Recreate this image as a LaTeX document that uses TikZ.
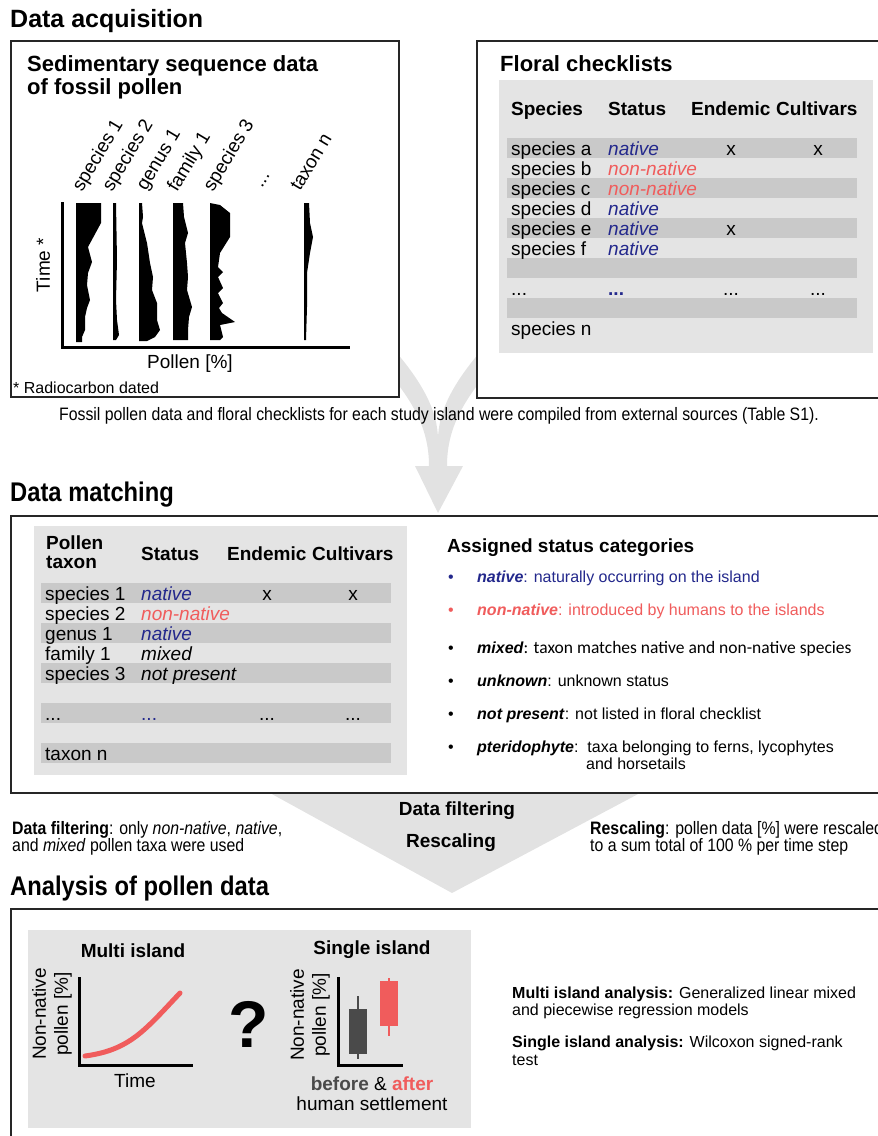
\documentclass[tikz,border=0pt]{standalone}
\usepackage{fontspec}
\setmainfont{Liberation Sans}
\newfontfamily\narrowfont[FakeStretch=0.88]{Liberation Sans}
\newfontfamily\calibrifont{Carlito}
\usetikzlibrary{calc}

\definecolor{natblue}{RGB}{35,40,140}
\definecolor{nonred}{RGB}{240,92,92}
\definecolor{panelgrey}{RGB}{228,228,228}
\definecolor{rowgrey}{RGB}{201,201,201}
\definecolor{flowgrey}{RGB}{226,226,226}
\definecolor{boxdark}{RGB}{74,74,74}

\newcommand{\fsz}[1]{\fontsize{#1}{#1}\selectfont}

\begin{document}
\begin{tikzpicture}[x=1pt,y=-1pt,
    sectitle/.style={anchor=base west,inner sep=0,font=\bfseries\fsz{25}},
    frame/.style={draw=black!85,line width=1.2pt,fill=white},
    cell/.style={anchor=base west,inner sep=0,font=\fsz{19}},
    head/.style={anchor=base west,inner sep=0,font=\bfseries\fsz{19}},
    xcell/.style={anchor=base,inner sep=0,font=\fsz{19}},
    taxlabel/.style={anchor=base west,inner sep=0,font=\fsz{19},rotate=59},
    item/.style={anchor=base west,inner sep=0,font=\fsz{16}},
    bull/.style={anchor=base,inner sep=0,font=\fsz{16}},
    narrow/.style={anchor=base west,inner sep=0,font=\narrowfont\fsz{18}},
    axisline/.style={line width=3pt},
    pollen/.style={fill=black}]
    \useasboundingbox (0,0) rectangle (878,1136);

    % grey flow shapes behind the boxes
    \fill[flowgrey] (365,345) .. controls (405,390) and (429,420) .. (429,466)
      -- (415,466) -- (438,513) -- (463,466) -- (447,466)
      .. controls (447,420) and (471,390) .. (511,345)
      -- (486,345) .. controls (455,380) and (438,410) .. (438,440)
      .. controls (438,410) and (421,380) .. (390,345) -- cycle;
    \fill[flowgrey] (270,793) -- (640,793) -- (452,893) -- cycle;

    % boxes
    \draw[frame] (11,41) rectangle (399,397);
    \draw[frame] (477,41) rectangle (895,398);
    \draw[frame] (11,516) rectangle (895,793);
    \draw[frame] (11,909) rectangle (895,1150);

    % section titles
    \node[sectitle] (acq) at (10,27) {Data acquisition};
    \node[sectitle,font=\narrowfont\bfseries\fsz{27}] (match) at (10,501) {Data matching};
    \node[sectitle,font=\narrowfont\bfseries\fsz{27}] (anal) at (10,895) {Analysis of pollen data};

    % fossil pollen diagram
    \node[head,font=\bfseries\fsz{22}] (sedA) at (27,71) {Sedimentary sequence data};
    \node[head,font=\bfseries\fsz{22}] (sedB) at (27,94) {of fossil pollen};
    \draw[axisline] (62,202) -- (62,347) -- (350,347);
    \fill[pollen] (76,203) -- (101,203) -- (101,223) -- (88,247) -- (92,262) -- (88,273)
      -- (87,285) -- (90,300) -- (87,308) -- (85,317) -- (85,330) -- (82,337)
      -- (82,342) -- (76,342) -- cycle;
    \fill[pollen] (113,203) -- (116,203) -- (117,260) -- (116,300) -- (117,320)
      -- (119,335) -- (116,340) -- (113,340) -- cycle;
    \fill[pollen] (139,203) -- (142,203) -- (143,217) -- (142,223) -- (147,243)
      -- (150,263) -- (153,277) -- (152,290) -- (157,303) -- (157,320) -- (160,330)
      -- (155,337) -- (147,341) -- (139,341) -- cycle;
    \fill[pollen] (173,203) -- (183,203) -- (184,217) -- (188,233) -- (185,243)
      -- (187,263) -- (188,277) -- (187,290) -- (192,307) -- (189,317) -- (188,330)
      -- (188,340) -- (173,340) -- cycle;
    \fill[pollen] (210,203) -- (220,205) -- (230,213) -- (230,237) -- (220,253)
      -- (218,267) -- (223,272) -- (218,277) -- (223,288) -- (218,293) -- (223,303)
      -- (219,308) -- (222,313) -- (235,322) -- (220,325) -- (223,337) -- (220,340)
      -- (210,340) -- cycle;
    \fill[pollen] (304,203) -- (309,203) -- (310,223) -- (313,237) -- (310,253)
      -- (307,273) -- (307,307) -- (306,340) -- (304,340) -- cycle;
    \node[taxlabel] (t1) at (82,193) {species 1};
    \node[taxlabel] (t2) at (112,193) {species 2};
    \node[taxlabel] (t3) at (146,192) {genus 1};
    \node[taxlabel] (t4) at (177,193) {family 1};
    \node[taxlabel] (t5) at (213,193) {species 3};
    \node[taxlabel] (t6) at (262,189) {...};
    \node[taxlabel] (t7) at (300,192) {taxon n};
    \node[font=\fsz{19},rotate=90,inner sep=0] (time) at (43,265) {Time *};
    \node[xcell] (pollpct) at (190,368) {Pollen [\%]};
    \node[item] (radio) at (13,393) {* Radiocarbon dated};

    % floral checklist table
    \node[head,font=\bfseries\fsz{22}] (floral) at (500,71) {Floral checklists};
    \fill[panelgrey] (499,80) rectangle (873,353);
    \foreach \yy in {138,178,218,258,298}
      \fill[rowgrey] (507,\yy) rectangle +(350,20);
    \node[head] (fh1) at (511,115) {Species};
    \node[head] (fh2) at (608,115) {Status};
    \node[head] (fh3) at (691,115) {Endemic};
    \node[head] (fh4) at (776,115) {Cultivars};
    \node[cell] (fa) at (511,155) {species a};
    \node[cell,natblue,font=\itshape\fsz{19}] (fas) at (608,155) {native};
    \node[xcell] (fae) at (731,155) {x};
    \node[xcell] (fac) at (818,155) {x};
    \node[cell] (fb) at (511,175) {species b};
    \node[cell,nonred,font=\itshape\fsz{19}] (fbs) at (608,175) {non-native};
    \node[cell] (fc) at (511,195) {species c};
    \node[cell,nonred,font=\itshape\fsz{19}] (fcs) at (608,195) {non-native};
    \node[cell] (fd) at (511,215) {species d};
    \node[cell,natblue,font=\itshape\fsz{19}] (fds) at (608,215) {native};
    \node[cell] (fe) at (511,235) {species e};
    \node[cell,natblue,font=\itshape\fsz{19}] (fes) at (608,235) {native};
    \node[xcell] (fee) at (731,235) {x};
    \node[cell] (ff) at (511,255) {species f};
    \node[cell,natblue,font=\itshape\fsz{19}] (ffs) at (608,255) {native};
    \node[cell] (fdots) at (511,295) {...};
    \node[cell,natblue,font=\bfseries\fsz{19}] (fdotss) at (608,295) {...};
    \node[xcell] (fdotse) at (731,295) {...};
    \node[xcell] (fdotsc) at (818,295) {...};
    \node[cell] (fn) at (511,335) {species n};

    \node[anchor=base,inner sep=0,font=\narrowfont\fsz{18}] (compiled) at (439,420)
      {Fossil pollen data and floral checklists for each study island were compiled from external sources (Table S1).};

    % matching table
    \fill[panelgrey] (34,526) rectangle (407,775);
    \foreach \yy in {583,623,663,703,743}
      \fill[rowgrey] (41,\yy) rectangle +(350,20);
    \node[head] (mh1) at (46,549) {Pollen};
    \node[head] (mh1b) at (46,568) {taxon};
    \node[head] (mh2) at (141,560) {Status};
    \node[head] (mh3) at (227,560) {Endemic};
    \node[head] (mh4) at (312,560) {Cultivars};
    \node[cell] (m1) at (45,600) {species 1};
    \node[cell,natblue,font=\itshape\fsz{19}] (m1s) at (141,600) {native};
    \node[xcell] (m1e) at (267,600) {x};
    \node[xcell] (m1c) at (353,600) {x};
    \node[cell] (m2) at (45,620) {species 2};
    \node[cell,nonred,font=\itshape\fsz{19}] (m2s) at (141,620) {non-native};
    \node[cell] (m3) at (45,640) {genus 1};
    \node[cell,natblue,font=\itshape\fsz{19}] (m3s) at (141,640) {native};
    \node[cell] (m4) at (45,660) {family 1};
    \node[cell,font=\itshape\fsz{19}] (m4s) at (141,660) {mixed};
    \node[cell] (m5) at (45,680) {species 3};
    \node[cell,font=\itshape\fsz{19}] (m5s) at (141,680) {not present};
    \node[cell] (mdots) at (45,720) {...};
    \node[cell,natblue] (mdotss) at (141,720) {...};
    \node[xcell] (mdotse) at (267,720) {...};
    \node[xcell] (mdotsc) at (353,720) {...};
    \node[cell] (mn) at (45,760) {taxon n};

    % status categories
    \node[head] (cats) at (447,552) {Assigned status categories};
    \node[bull,natblue] (b1) at (451,582) {•};
    \node[item,natblue] (c1) at (477,582) {\textbf{\textit{native}}: naturally occurring on the island};
    \node[bull,nonred] (b2) at (451,615) {•};
    \node[item,nonred] (c2) at (477,615) {\textbf{\textit{non-native}}: introduced by humans to the islands};
    \node[bull] (b3) at (451,653) {•};
    \node[item] (c3) at (477,653) {\textbf{\textit{mixed}}{\calibrifont\fsz{17.5}: taxon matches native and non-native species}};
    \node[bull] (b4) at (451,686) {•};
    \node[item] (c4) at (477,686) {\textbf{\textit{unknown}}: unknown status};
    \node[bull] (b5) at (451,719) {•};
    \node[item] (c5) at (477,719) {\textbf{\textit{not present}}: not listed in floral checklist};
    \node[bull] (b6) at (451,752) {•};
    \node[item] (c6) at (477,752) {\textbf{\textit{pteridophyte}}:\ \ taxa belonging to ferns, lycophytes};
    \node[item] (c6b) at (586,769) {and horsetails};

    % filtering and rescaling
    \node[xcell,font=\bfseries\fsz{19}] (filt) at (457,815) {Data filtering};
    \node[xcell,font=\bfseries\fsz{19}] (resc) at (451,847) {Rescaling};
    \node[narrow] (filtA) at (12,834) {\textbf{Data filtering}: only \textit{non-native}, \textit{native},};
    \node[narrow] (filtB) at (12,851) {and \textit{mixed} pollen taxa were used};
    \node[narrow] (rescA) at (590,834) {\textbf{Rescaling}: pollen data [\%] were rescaled};
    \node[narrow] (rescB) at (590,851) {to a sum total of 100 \% per time step};

    % analysis panel
    \fill[panelgrey] (28,930) rectangle (471,1128);
    \node[xcell,font=\bfseries\fsz{19}] (multi) at (133,957) {Multi island};
    \node[xcell,font=\bfseries\fsz{19}] (single) at (372,954) {Single island};
    \draw[axisline] (79,977) -- (79,1065) -- (193,1065);
    \node[rotate=90,align=center,inner sep=0,font=\fontsize{19}{22}\selectfont] (ylab1) at (52,1014) {Non-native\\pollen [\%]};
    \draw[nonred,line width=5pt,line cap=round] (85,1056) .. controls (130,1050) and (145,1030) .. (180,993);
    \node[xcell] (timeb) at (135,1087) {Time};
    \node[inner sep=0,font=\bfseries\fsz{66}] (quest) at (249,1024) {?};
    \draw[axisline] (338,977) -- (338,1065) -- (403,1065);
    \node[rotate=90,align=center,inner sep=0,font=\fontsize{19}{22}\selectfont] (ylab2) at (310,1015) {Non-native\\pollen [\%]};
    \draw[boxdark,line width=1.5pt] (358,996) -- (358,1059);
    \fill[boxdark] (349,1009) rectangle (367,1054);
    \draw[nonred,line width=1.5pt] (389,978) -- (389,1036);
    \fill[nonred] (380,981) rectangle (398,1026);
    \node[xcell] (befaft) at (372,1090) {\textbf{\color{boxdark}before} \& \textbf{\color{nonred}after}};
    \node[xcell] (settle) at (372,1110) {human settlement};

    \node[item] (mA) at (512,998) {\textbf{Multi island analysis:} Generalized linear mixed};
    \node[item] (mB) at (512,1015) {and piecewise regression models};
    \node[item] (sA) at (512,1047) {\textbf{Single island analysis:} Wilcoxon signed-rank};
    \node[item] (sB) at (512,1065) {test};
\end{tikzpicture}
\end{document}
